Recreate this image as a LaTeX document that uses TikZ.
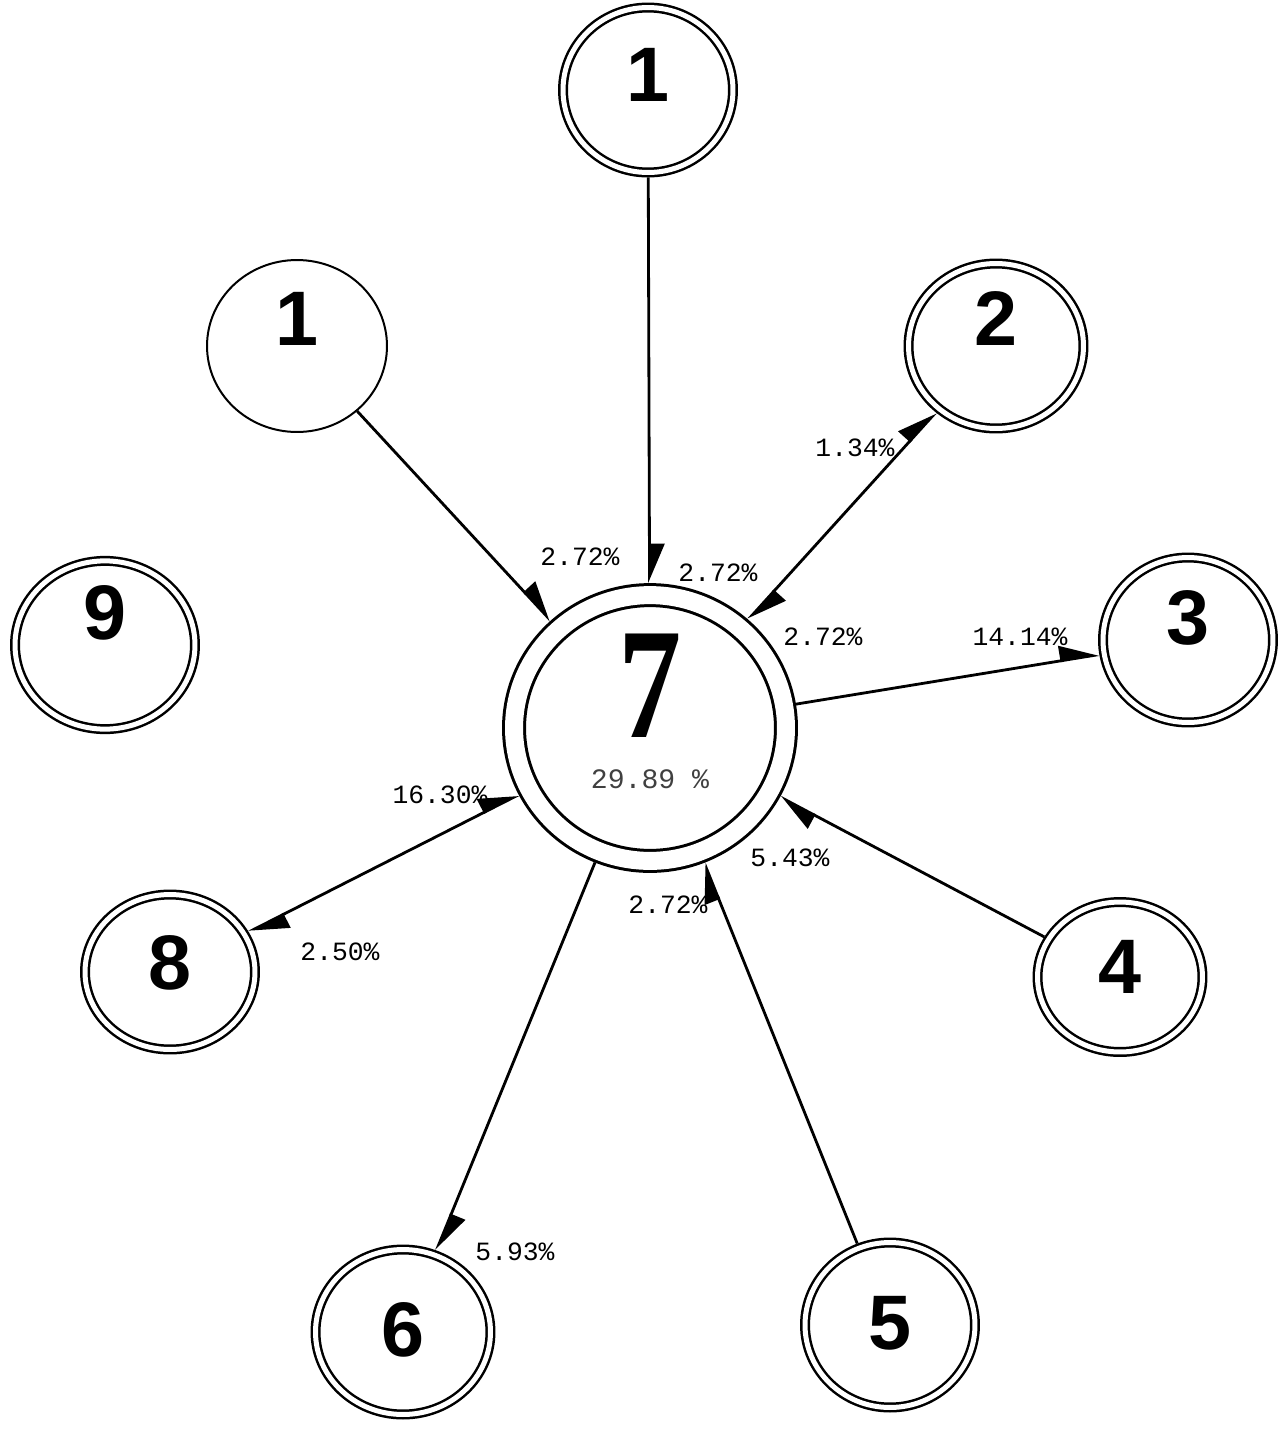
\documentclass[tikz,border=0pt]{standalone}
\usepackage{fontspec}
\usetikzlibrary{arrows.meta,shapes.geometric}
\newfontfamily\ringfont{Liberation Sans}
\newfontfamily\hubfont{Liberation Serif}[FakeStretch=0.8]
\newfontfamily\pctfont{Liberation Mono}
\tikzset{
  ring/.style={ellipse, draw, line width=0.05cm, double, double distance=0.1cm,
      outer sep=0.1cm, inner sep=0pt, minimum width=3.4cm, minimum height=3.3cm,
      font=\ringfont\bfseries\fontsize{44}{44}\selectfont, text depth=0.6cm},
  plainring/.style={ellipse, draw, line width=0.04cm, outer sep=0.02cm, inner sep=0pt,
      minimum width=3.6cm, minimum height=3.44cm,
      font=\ringfont\bfseries\fontsize{44}{44}\selectfont, text depth=0.6cm},
  hub/.style={ellipse, draw, line width=0.06cm, double, double distance=0.36cm,
      outer sep=0.24cm, inner sep=0pt, minimum width=5.44cm, minimum height=4.8cm,
      align=center, font=\hubfont\bfseries\fontsize{90}{29}\selectfont},
  pct/.style={font=\pctfont\fontsize{15}{15}\selectfont, inner sep=1pt},
  link/.style={line width=1.6pt},
  tipto/.style={-{Triangle[left,length=0.72cm,width=0.6cm]}},
  tipboth/.style={{Triangle[left,length=0.72cm,width=0.6cm]}-{Triangle[left,length=0.72cm,width=0.6cm]}},
}
\begin{document}
\begin{tikzpicture}[x=0.02cm,y=-0.02cm]
  \useasboundingbox (0,0) rectangle (1282,1434);
  % nodes
  \node[hub] (n7) at (650,728) {7\\{\pctfont\mdseries\fontsize{16}{29}\selectfont\color{black!75}29.89 \%}\\[-0.35cm]\mbox{}};
  \node[ring] (n1a) at (648,90) {1};
  \node[plainring, text depth=1.1cm] (n1b) at (297,346) {1};
  \node[ring, text depth=1.1cm, minimum width=3.5cm] (n2) at (996,346) {2};
  \node[ring, text depth=0.9cm] (n3) at (1188,640) {3};
  \node[ring, text depth=0.4cm, minimum width=3.3cm, minimum height=3.0cm] (n4) at (1120,977) {4};
  \node[ring, text depth=0.1cm] (n5) at (890,1325) {5};
  \node[ring, text depth=0.1cm, minimum width=3.5cm] (n6) at (403,1332) {6};
  \node[ring, text depth=0.4cm, minimum height=3.1cm] (n8) at (170,972) {8};
  \node[ring, text depth=1.3cm, minimum width=3.6cm] (n9) at (105,645) {9};
  % percentages
  \node[pct] (p1b) at (580,557) {2.72\%};
  \node[pct] (p1a) at (718,573) {2.72\%};
  \node[pct] (p2in) at (823,637) {2.72\%};
  \node[pct] (p2out) at (855,448) {1.34\%};
  \node[pct] (p3) at (1020,637) {14.14\%};
  \node[pct] (p4) at (790,858) {5.43\%};
  \node[pct] (p5) at (668,905) {2.72\%};
  \node[pct] (p8in) at (440,795) {16.30\%};
  \node[pct] (p8out) at (340,952) {2.50\%};
  \node[pct] (p6) at (515,1252) {5.93\%};
  % links
  \draw[link, tipto] (n1a) -- (n7);
  \draw[link, tipto] (n1b) -- (n7);
  \draw[link, tipboth] (n7) -- (n2);
  \draw[link, tipto] (n7) -- (n3);
  \draw[link, tipto] (n4) -- (n7);
  \draw[link, tipto] (n5) -- (n7);
  \draw[link, tipto] (n7) -- (n6);
  \draw[link, tipboth] (n7) -- (n8);
\end{tikzpicture}
\end{document}
